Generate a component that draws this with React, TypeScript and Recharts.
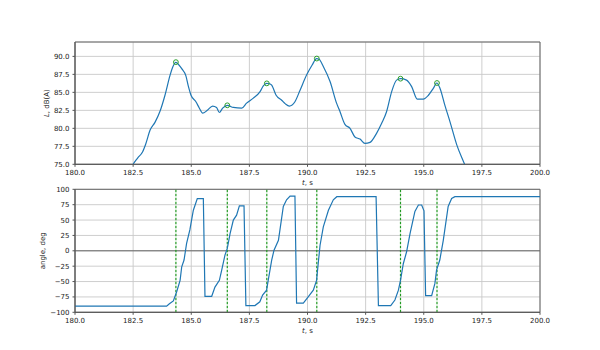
import React from 'react';
import { LineChart, Line, XAxis, YAxis, CartesianGrid, ReferenceLine, ReferenceArea } from 'recharts';

const timeTicks = [180, 182.5, 185, 187.5, 190, 192.5, 195, 197.5, 200];
const levelTicks = [75, 77.5, 80, 82.5, 85, 87.5, 90];
const angleTicks = [-100, -75, -50, -25, 0, 25, 50, 75, 100];

// sound level, dB(A)
const levelTime = [
  182.35, 182.5, 182.7, 182.91, 183.05, 183.23, 183.44, 183.66, 183.87, 184.09, 184.2, 184.34, 184.47,
  184.59, 184.77, 184.88, 184.99, 185.2, 185.35, 185.49, 185.69, 185.92, 186.09, 186.21, 186.35, 186.55,
  186.81, 187.17, 187.38, 187.67, 187.96, 188.1, 188.24, 188.36, 188.46, 188.65, 188.89, 189.05, 189.22,
  189.46, 189.68, 189.96, 190.2, 190.39, 190.5, 190.68, 190.97, 191.25, 191.4, 191.61, 191.83, 192.04,
  192.26, 192.47, 192.69, 192.97, 193.19, 193.4, 193.62, 193.83, 194.0, 194.26, 194.48, 194.72, 194.98,
  195.2, 195.41, 195.56, 195.7, 195.91, 196.13, 196.42, 196.77, 196.9,
];
const levelDb = [
  74.0, 75.0, 75.9, 76.75, 77.9, 79.76, 80.83, 82.4, 84.6, 87.4, 88.5, 89.17, 88.8,
  88.3, 87.3, 85.8, 84.6, 83.7, 82.8, 82.1, 82.5, 83.1, 82.9, 82.2, 82.8, 83.2,
  82.9, 82.8, 83.5, 84.2, 85.1, 85.9, 86.25, 86.2, 86.0, 84.6, 83.9, 83.4, 83.1,
  83.7, 85.3, 87.4, 88.8, 89.7, 89.6, 88.6, 86.5, 83.5, 82.3, 80.55, 80.0, 78.8,
  78.5, 77.9, 78.05, 79.3, 80.7, 82.3, 85.1, 86.7, 86.9, 86.7, 85.8, 84.07, 84.07,
  84.6, 85.55, 86.3, 85.55, 83.2, 80.9, 77.7, 74.9, 73.8,
];

// head angle, deg
const angleTime = [
  180, 183.94, 184.06, 184.23, 184.37, 184.52, 184.59, 184.69, 184.8, 184.94, 185.09, 185.26, 185.52,
  185.59, 185.88, 186.02, 186.21, 186.31, 186.45, 186.55, 186.67, 186.81, 186.95, 187.07, 187.27,
  187.35, 187.74, 187.95, 188.07, 188.24, 188.31, 188.46, 188.56, 188.75, 188.96, 189.1, 189.25, 189.46,
  189.53, 189.82, 190.03, 190.25, 190.39, 190.46, 190.54, 190.68, 190.9, 191.11, 191.26, 192.95,
  193.05, 193.58, 193.76, 193.91, 194.0, 194.12, 194.26, 194.41, 194.62, 194.77, 194.91, 195.01,
  195.08, 195.34, 195.48, 195.55, 195.69, 195.84, 196.05, 196.2, 196.34, 200,
];
const angleDeg = [
  -90, -90, -86, -81.5, -67, -48, -26, -15, 12, 34, 66, 85, 85,
  -74, -74, -59, -48, -31.5, -7, 4, 28, 50, 58, 73, 73,
  -89, -89, -83, -72, -64, -48, -15, 1, 17, 72, 83, 89, 89,
  -85, -85, -75, -64, -48, -21, 9, 39, 66, 83, 88, 88,
  -89, -89, -80, -64, -48, -21, -2, 28, 64, 74.5, 74.5, 65,
  -73, -73, -53, -31.5, -15, 17, 72, 85, 88, 88,
];

// level peaks
const peakTime = [184.34, 186.55, 188.25, 190.4, 194.0, 195.57];
const peakDb = [89.2, 83.2, 86.25, 89.7, 86.9, 86.3];

const levelData = levelTime.map((t, i) => ({ t, L: levelDb[i] }));
const angleData = angleTime.map((t, i) => ({ t, a: angleDeg[i] }));
const peakData = peakTime.map((t, i) => ({ t, L: peakDb[i] }));

const FONT = 'DejaVu Sans, sans-serif';
const tickStyle = { fontSize: 7, fill: '#222', fontFamily: FONT };
const fmtTime = (v: number) => v.toFixed(1);
const fmtAngle = (v: number) => (v < 0 ? '\u2212' + Math.abs(v) : String(v));

const xTitle = (dy: number) => (props: any) => {
  const { x, y, width } = props.viewBox;
  return (
    <text x={x + width / 2} y={y + dy} textAnchor="middle" fontSize={7} fill="#222" fontFamily={FONT}>
      <tspan fontStyle="italic">t</tspan>, s
    </text>
  );
};

const yTitle = (fromRight: number, children: React.ReactNode) => (props: any) => {
  const { x, y, width, height } = props.viewBox;
  const cx = x + width - fromRight;
  const cy = y + height / 2;
  return (
    <text x={cx} y={cy} transform={`rotate(-90 ${cx} ${cy})`} textAnchor="middle" fontSize={7} fill="#222" fontFamily={FONT}>
      {children}
    </text>
  );
};

const axisProps = {
  tick: tickStyle,
  tickSize: 2.5,
  tickMargin: 3,
  stroke: '#555',
};

export default function App() {
  return (
    <div style={{ position: 'absolute', left: 0, top: 0, width: 600, height: 350, background: '#fff' }}>
      <div style={{ position: 'absolute', left: 0, top: 0 }}>
        <LineChart width={600} height={190} data={levelData} margin={{ top: 42, right: 60, bottom: 1.7, left: 0 }}>
          <CartesianGrid stroke="#c8c8c8" strokeWidth={0.9} />
          <XAxis
            {...axisProps}
            dataKey="t"
            type="number"
            domain={[180, 200]}
            ticks={timeTicks}
            interval={0}
            tickFormatter={fmtTime}
            height={24}
            label={{ content: xTitle(21) }}
          />
          <YAxis
            {...axisProps}
            type="number"
            domain={[75, 92]}
            ticks={levelTicks}
            interval={0}
            allowDataOverflow
            tickFormatter={fmtTime}
            width={75}
            label={{
              content: yTitle(25.5, (
                <>
                  <tspan fontStyle="italic">L</tspan>, dB(A)
                </>
              )),
            }}
          />
          <ReferenceArea x1={180} x2={200} y1={75} y2={92} fill="none" stroke="#666" strokeWidth={1} />
          <Line type="monotone" dataKey="L" stroke="#1f77b4" strokeWidth={1.2} dot={false} isAnimationActive={false} />
          <Line
            data={peakData}
            dataKey="L"
            stroke="none"
            dot={{ r: 2.4, stroke: '#2ca02c', strokeWidth: 1, fill: 'none' }}
            isAnimationActive={false}
          />
        </LineChart>
      </div>
      <div style={{ position: 'absolute', left: 0, top: 180 }}>
        <LineChart width={600} height={170} data={angleData} margin={{ top: 9.3, right: 60, bottom: 13.7, left: 0 }}>
          <CartesianGrid stroke="#c8c8c8" strokeWidth={0.9} />
          <XAxis
            {...axisProps}
            dataKey="t"
            type="number"
            domain={[180, 200]}
            ticks={timeTicks}
            interval={0}
            tickFormatter={fmtTime}
            height={24}
            label={{ content: xTitle(20.5) }}
          />
          <YAxis
            {...axisProps}
            type="number"
            domain={[-100, 100]}
            ticks={angleTicks}
            interval={0}
            tickFormatter={fmtAngle}
            width={75}
            label={{ content: yTitle(29.5, 'angle, deg') }}
          />
          <ReferenceArea x1={180} x2={200} y1={-100} y2={100} fill="none" stroke="#666" strokeWidth={1} />
          <ReferenceLine y={0} stroke="#666" strokeWidth={1} />
          {peakTime.map((t) => (
            <ReferenceLine key={t} x={t} stroke="#229922" strokeWidth={1.2} strokeDasharray="2.5 1.5" />
          ))}
          <Line dataKey="a" stroke="#1f77b4" strokeWidth={1.2} dot={false} isAnimationActive={false} />
        </LineChart>
      </div>
    </div>
  );
}
